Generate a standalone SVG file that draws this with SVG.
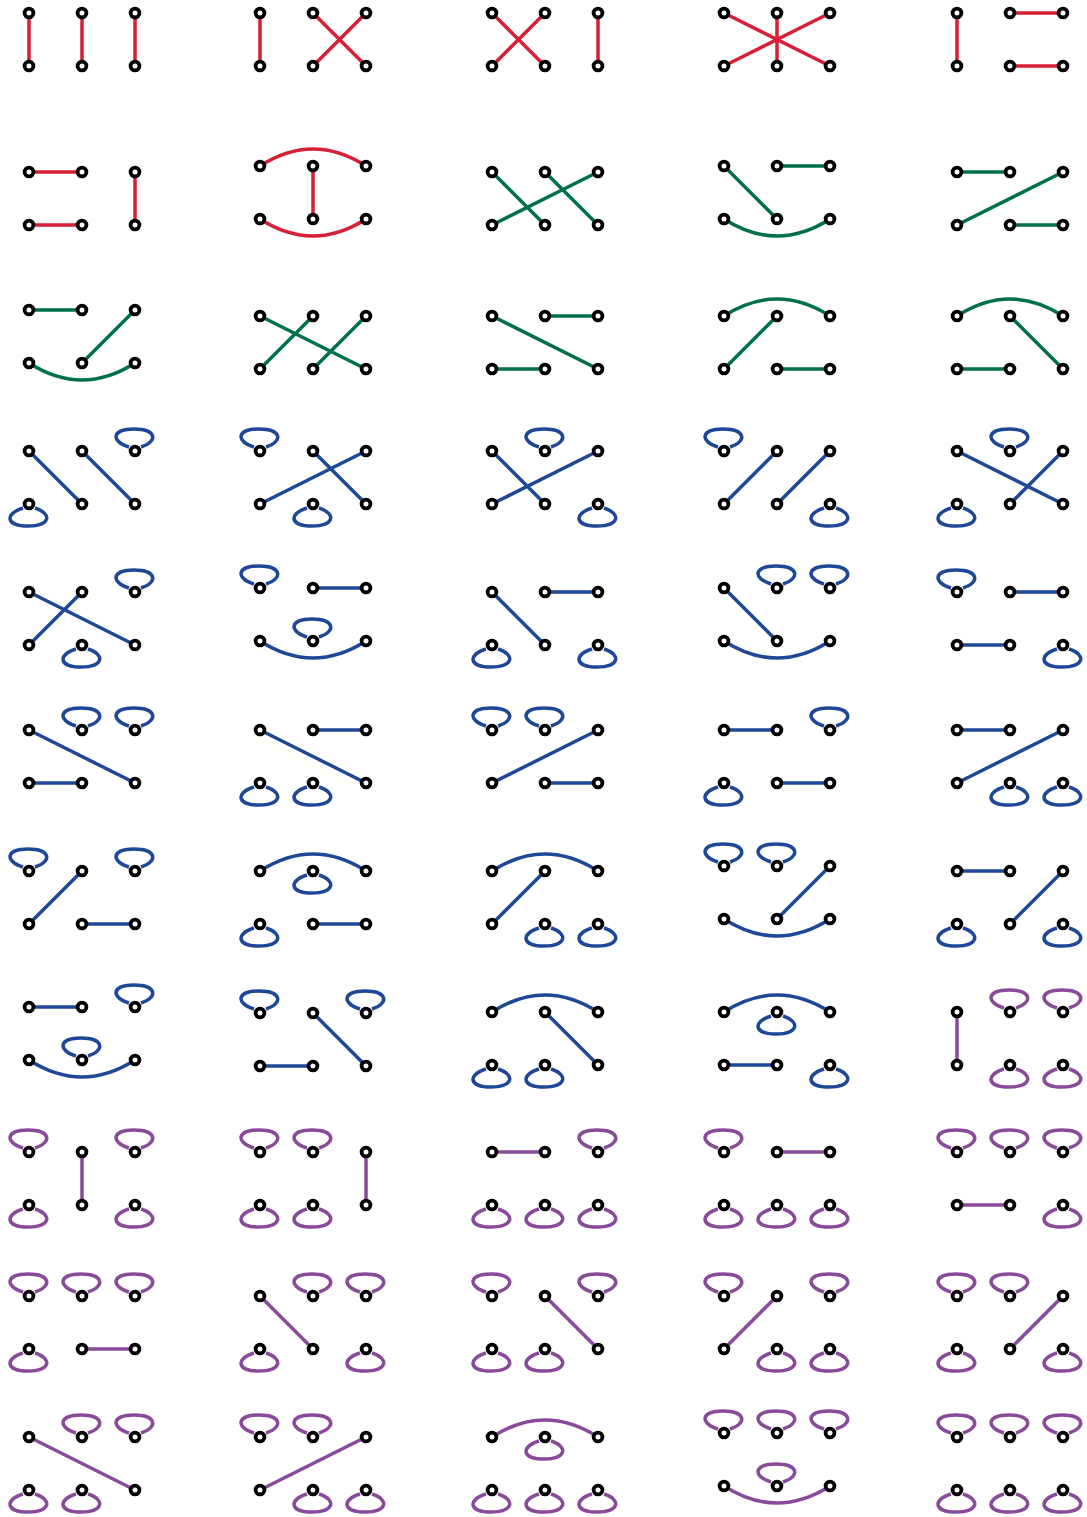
<svg xmlns="http://www.w3.org/2000/svg" xmlns:xlink="http://www.w3.org/1999/xlink" width="1087" height="1517" viewBox="0 0 1087 1517">
<style>
.c{fill:none;stroke-width:3.5}
.red{stroke:#d71f36}
.grn{stroke:#00704a}
.blu{stroke:#1e4897}
.pur{stroke:#8a4a9a}
.n circle{fill:#fff;stroke:#000;stroke-width:3.8}
</style>
<defs>
<path id="lu" d="M-6,-4C-25,-10 -23,-22 -1,-22S24,-10 6,-4"/>
<path id="ld" d="M-6,4C-25,10 -23,22 -1,22S24,10 6,4"/>
</defs>
<rect width="1087" height="1517" fill="#fff"/>

<!-- Row 1 -->
<g id="r1c1" transform="translate(29,13)">
<g class="c red"><path d="M0,0V53M53,0V53M106,0V53"/></g>
<g id="r1c1-a" class="n"><circle cx="0" cy="0" r="4.4"/></g><g id="r1c1-b" class="n"><circle cx="53" cy="0" r="4.4"/></g><g id="r1c1-c" class="n"><circle cx="106" cy="0" r="4.4"/></g><g id="r1c1-d" class="n"><circle cx="0" cy="53" r="4.4"/></g><g id="r1c1-e" class="n"><circle cx="53" cy="53" r="4.4"/></g><g id="r1c1-f" class="n"><circle cx="106" cy="53" r="4.4"/></g>
</g>
<g id="r1c2" transform="translate(260,13)">
<g class="c red"><path d="M0,0V53M53,0L106,53M106,0L53,53"/></g>
<g id="r1c2-a" class="n"><circle cx="0" cy="0" r="4.4"/></g><g id="r1c2-b" class="n"><circle cx="53" cy="0" r="4.4"/></g><g id="r1c2-c" class="n"><circle cx="106" cy="0" r="4.4"/></g><g id="r1c2-d" class="n"><circle cx="0" cy="53" r="4.4"/></g><g id="r1c2-e" class="n"><circle cx="53" cy="53" r="4.4"/></g><g id="r1c2-f" class="n"><circle cx="106" cy="53" r="4.4"/></g>
</g>
<g id="r1c3" transform="translate(492,13)">
<g class="c red"><path d="M0,0L53,53M53,0L0,53M106,0V53"/></g>
<g id="r1c3-a" class="n"><circle cx="0" cy="0" r="4.4"/></g><g id="r1c3-b" class="n"><circle cx="53" cy="0" r="4.4"/></g><g id="r1c3-c" class="n"><circle cx="106" cy="0" r="4.4"/></g><g id="r1c3-d" class="n"><circle cx="0" cy="53" r="4.4"/></g><g id="r1c3-e" class="n"><circle cx="53" cy="53" r="4.4"/></g><g id="r1c3-f" class="n"><circle cx="106" cy="53" r="4.4"/></g>
</g>
<g id="r1c4" transform="translate(724,13)">
<g class="c red"><path d="M0,0L106,53M106,0L0,53M53,0V53"/></g>
<g id="r1c4-a" class="n"><circle cx="0" cy="0" r="4.4"/></g><g id="r1c4-b" class="n"><circle cx="53" cy="0" r="4.4"/></g><g id="r1c4-c" class="n"><circle cx="106" cy="0" r="4.4"/></g><g id="r1c4-d" class="n"><circle cx="0" cy="53" r="4.4"/></g><g id="r1c4-e" class="n"><circle cx="53" cy="53" r="4.4"/></g><g id="r1c4-f" class="n"><circle cx="106" cy="53" r="4.4"/></g>
</g>
<g id="r1c5" transform="translate(957,13)">
<g class="c red"><path d="M0,0V53M53,0H106M53,53H106"/></g>
<g id="r1c5-a" class="n"><circle cx="0" cy="0" r="4.4"/></g><g id="r1c5-b" class="n"><circle cx="53" cy="0" r="4.4"/></g><g id="r1c5-c" class="n"><circle cx="106" cy="0" r="4.4"/></g><g id="r1c5-d" class="n"><circle cx="0" cy="53" r="4.4"/></g><g id="r1c5-e" class="n"><circle cx="53" cy="53" r="4.4"/></g><g id="r1c5-f" class="n"><circle cx="106" cy="53" r="4.4"/></g>
</g>

<!-- Row 2 -->
<g id="r2c1" transform="translate(29,172)">
<g class="c red"><path d="M0,0H53M0,53H53M106,0V53"/></g>
<g id="r2c1-a" class="n"><circle cx="0" cy="0" r="4.4"/></g><g id="r2c1-b" class="n"><circle cx="53" cy="0" r="4.4"/></g><g id="r2c1-c" class="n"><circle cx="106" cy="0" r="4.4"/></g><g id="r2c1-d" class="n"><circle cx="0" cy="53" r="4.4"/></g><g id="r2c1-e" class="n"><circle cx="53" cy="53" r="4.4"/></g><g id="r2c1-f" class="n"><circle cx="106" cy="53" r="4.4"/></g>
</g>
<g id="r2c2" transform="translate(260,166)">
<g class="c red"><path d="M0,0Q53,-34 106,0M53,0V53M0,53Q53,87 106,53"/></g>
<g id="r2c2-a" class="n"><circle cx="0" cy="0" r="4.4"/></g><g id="r2c2-b" class="n"><circle cx="53" cy="0" r="4.4"/></g><g id="r2c2-c" class="n"><circle cx="106" cy="0" r="4.4"/></g><g id="r2c2-d" class="n"><circle cx="0" cy="53" r="4.4"/></g><g id="r2c2-e" class="n"><circle cx="53" cy="53" r="4.4"/></g><g id="r2c2-f" class="n"><circle cx="106" cy="53" r="4.4"/></g>
</g>
<g id="r2c3" transform="translate(492,172)">
<g class="c grn"><path d="M0,0L53,53M53,0L106,53M106,0L0,53"/></g>
<g id="r2c3-a" class="n"><circle cx="0" cy="0" r="4.4"/></g><g id="r2c3-b" class="n"><circle cx="53" cy="0" r="4.4"/></g><g id="r2c3-c" class="n"><circle cx="106" cy="0" r="4.4"/></g><g id="r2c3-d" class="n"><circle cx="0" cy="53" r="4.4"/></g><g id="r2c3-e" class="n"><circle cx="53" cy="53" r="4.4"/></g><g id="r2c3-f" class="n"><circle cx="106" cy="53" r="4.4"/></g>
</g>
<g id="r2c4" transform="translate(724,166)">
<g class="c grn"><path d="M0,0L53,53M53,0H106M0,53Q53,87 106,53"/></g>
<g id="r2c4-a" class="n"><circle cx="0" cy="0" r="4.4"/></g><g id="r2c4-b" class="n"><circle cx="53" cy="0" r="4.4"/></g><g id="r2c4-c" class="n"><circle cx="106" cy="0" r="4.4"/></g><g id="r2c4-d" class="n"><circle cx="0" cy="53" r="4.4"/></g><g id="r2c4-e" class="n"><circle cx="53" cy="53" r="4.4"/></g><g id="r2c4-f" class="n"><circle cx="106" cy="53" r="4.4"/></g>
</g>
<g id="r2c5" transform="translate(957,172)">
<g class="c grn"><path d="M0,0H53M106,0L0,53M53,53H106"/></g>
<g id="r2c5-a" class="n"><circle cx="0" cy="0" r="4.4"/></g><g id="r2c5-b" class="n"><circle cx="53" cy="0" r="4.4"/></g><g id="r2c5-c" class="n"><circle cx="106" cy="0" r="4.4"/></g><g id="r2c5-d" class="n"><circle cx="0" cy="53" r="4.4"/></g><g id="r2c5-e" class="n"><circle cx="53" cy="53" r="4.4"/></g><g id="r2c5-f" class="n"><circle cx="106" cy="53" r="4.4"/></g>
</g>

<!-- Row 3 -->
<g id="r3c1" transform="translate(29,310)">
<g class="c grn"><path d="M0,0H53M106,0L53,53M0,53Q53,87 106,53"/></g>
<g id="r3c1-a" class="n"><circle cx="0" cy="0" r="4.4"/></g><g id="r3c1-b" class="n"><circle cx="53" cy="0" r="4.4"/></g><g id="r3c1-c" class="n"><circle cx="106" cy="0" r="4.4"/></g><g id="r3c1-d" class="n"><circle cx="0" cy="53" r="4.4"/></g><g id="r3c1-e" class="n"><circle cx="53" cy="53" r="4.4"/></g><g id="r3c1-f" class="n"><circle cx="106" cy="53" r="4.4"/></g>
</g>
<g id="r3c2" transform="translate(260,316)">
<g class="c grn"><path d="M0,0L106,53M53,0L0,53M106,0L53,53"/></g>
<g id="r3c2-a" class="n"><circle cx="0" cy="0" r="4.4"/></g><g id="r3c2-b" class="n"><circle cx="53" cy="0" r="4.4"/></g><g id="r3c2-c" class="n"><circle cx="106" cy="0" r="4.4"/></g><g id="r3c2-d" class="n"><circle cx="0" cy="53" r="4.4"/></g><g id="r3c2-e" class="n"><circle cx="53" cy="53" r="4.4"/></g><g id="r3c2-f" class="n"><circle cx="106" cy="53" r="4.4"/></g>
</g>
<g id="r3c3" transform="translate(492,316)">
<g class="c grn"><path d="M0,0L106,53M53,0H106M0,53H53"/></g>
<g id="r3c3-a" class="n"><circle cx="0" cy="0" r="4.4"/></g><g id="r3c3-b" class="n"><circle cx="53" cy="0" r="4.4"/></g><g id="r3c3-c" class="n"><circle cx="106" cy="0" r="4.4"/></g><g id="r3c3-d" class="n"><circle cx="0" cy="53" r="4.4"/></g><g id="r3c3-e" class="n"><circle cx="53" cy="53" r="4.4"/></g><g id="r3c3-f" class="n"><circle cx="106" cy="53" r="4.4"/></g>
</g>
<g id="r3c4" transform="translate(724,316)">
<g class="c grn"><path d="M0,0Q53,-34 106,0M53,0L0,53M53,53H106"/></g>
<g id="r3c4-a" class="n"><circle cx="0" cy="0" r="4.4"/></g><g id="r3c4-b" class="n"><circle cx="53" cy="0" r="4.4"/></g><g id="r3c4-c" class="n"><circle cx="106" cy="0" r="4.4"/></g><g id="r3c4-d" class="n"><circle cx="0" cy="53" r="4.4"/></g><g id="r3c4-e" class="n"><circle cx="53" cy="53" r="4.4"/></g><g id="r3c4-f" class="n"><circle cx="106" cy="53" r="4.4"/></g>
</g>
<g id="r3c5" transform="translate(957,316)">
<g class="c grn"><path d="M0,0Q53,-34 106,0M53,0L106,53M0,53H53"/></g>
<g id="r3c5-a" class="n"><circle cx="0" cy="0" r="4.4"/></g><g id="r3c5-b" class="n"><circle cx="53" cy="0" r="4.4"/></g><g id="r3c5-c" class="n"><circle cx="106" cy="0" r="4.4"/></g><g id="r3c5-d" class="n"><circle cx="0" cy="53" r="4.4"/></g><g id="r3c5-e" class="n"><circle cx="53" cy="53" r="4.4"/></g><g id="r3c5-f" class="n"><circle cx="106" cy="53" r="4.4"/></g>
</g>

<!-- Row 4 -->
<g id="r4c1" transform="translate(29,451)">
<g class="c blu"><path d="M0,0L53,53M53,0L106,53"/><use href="#lu" x="106" y="0"/><use href="#ld" x="0" y="53"/></g>
<g id="r4c1-a" class="n"><circle cx="0" cy="0" r="4.4"/></g><g id="r4c1-b" class="n"><circle cx="53" cy="0" r="4.4"/></g><g id="r4c1-c" class="n"><circle cx="106" cy="0" r="4.4"/></g><g id="r4c1-d" class="n"><circle cx="0" cy="53" r="4.4"/></g><g id="r4c1-e" class="n"><circle cx="53" cy="53" r="4.4"/></g><g id="r4c1-f" class="n"><circle cx="106" cy="53" r="4.4"/></g>
</g>
<g id="r4c2" transform="translate(260,451)">
<g class="c blu"><path d="M53,0L106,53M106,0L0,53"/><use href="#lu" x="0" y="0"/><use href="#ld" x="53" y="53"/></g>
<g id="r4c2-a" class="n"><circle cx="0" cy="0" r="4.4"/></g><g id="r4c2-b" class="n"><circle cx="53" cy="0" r="4.4"/></g><g id="r4c2-c" class="n"><circle cx="106" cy="0" r="4.4"/></g><g id="r4c2-d" class="n"><circle cx="0" cy="53" r="4.4"/></g><g id="r4c2-e" class="n"><circle cx="53" cy="53" r="4.4"/></g><g id="r4c2-f" class="n"><circle cx="106" cy="53" r="4.4"/></g>
</g>
<g id="r4c3" transform="translate(492,451)">
<g class="c blu"><path d="M0,0L53,53M106,0L0,53"/><use href="#lu" x="53" y="0"/><use href="#ld" x="106" y="53"/></g>
<g id="r4c3-a" class="n"><circle cx="0" cy="0" r="4.4"/></g><g id="r4c3-b" class="n"><circle cx="53" cy="0" r="4.4"/></g><g id="r4c3-c" class="n"><circle cx="106" cy="0" r="4.4"/></g><g id="r4c3-d" class="n"><circle cx="0" cy="53" r="4.4"/></g><g id="r4c3-e" class="n"><circle cx="53" cy="53" r="4.4"/></g><g id="r4c3-f" class="n"><circle cx="106" cy="53" r="4.4"/></g>
</g>
<g id="r4c4" transform="translate(724,451)">
<g class="c blu"><path d="M53,0L0,53M106,0L53,53"/><use href="#lu" x="0" y="0"/><use href="#ld" x="106" y="53"/></g>
<g id="r4c4-a" class="n"><circle cx="0" cy="0" r="4.4"/></g><g id="r4c4-b" class="n"><circle cx="53" cy="0" r="4.4"/></g><g id="r4c4-c" class="n"><circle cx="106" cy="0" r="4.4"/></g><g id="r4c4-d" class="n"><circle cx="0" cy="53" r="4.4"/></g><g id="r4c4-e" class="n"><circle cx="53" cy="53" r="4.4"/></g><g id="r4c4-f" class="n"><circle cx="106" cy="53" r="4.4"/></g>
</g>
<g id="r4c5" transform="translate(957,451)">
<g class="c blu"><path d="M0,0L106,53M106,0L53,53"/><use href="#lu" x="53" y="0"/><use href="#ld" x="0" y="53"/></g>
<g id="r4c5-a" class="n"><circle cx="0" cy="0" r="4.4"/></g><g id="r4c5-b" class="n"><circle cx="53" cy="0" r="4.4"/></g><g id="r4c5-c" class="n"><circle cx="106" cy="0" r="4.4"/></g><g id="r4c5-d" class="n"><circle cx="0" cy="53" r="4.4"/></g><g id="r4c5-e" class="n"><circle cx="53" cy="53" r="4.4"/></g><g id="r4c5-f" class="n"><circle cx="106" cy="53" r="4.4"/></g>
</g>

<!-- Row 5 -->
<g id="r5c1" transform="translate(29,592)">
<g class="c blu"><path d="M0,0L106,53M53,0L0,53"/><use href="#lu" x="106" y="0"/><use href="#ld" x="53" y="53"/></g>
<g id="r5c1-a" class="n"><circle cx="0" cy="0" r="4.4"/></g><g id="r5c1-b" class="n"><circle cx="53" cy="0" r="4.4"/></g><g id="r5c1-c" class="n"><circle cx="106" cy="0" r="4.4"/></g><g id="r5c1-d" class="n"><circle cx="0" cy="53" r="4.4"/></g><g id="r5c1-e" class="n"><circle cx="53" cy="53" r="4.4"/></g><g id="r5c1-f" class="n"><circle cx="106" cy="53" r="4.4"/></g>
</g>
<g id="r5c2" transform="translate(260,588)">
<g class="c blu"><path d="M53,0H106M0,53Q53,87 106,53"/><use href="#lu" x="0" y="0"/><use href="#lu" x="53" y="53"/></g>
<g id="r5c2-a" class="n"><circle cx="0" cy="0" r="4.4"/></g><g id="r5c2-b" class="n"><circle cx="53" cy="0" r="4.4"/></g><g id="r5c2-c" class="n"><circle cx="106" cy="0" r="4.4"/></g><g id="r5c2-d" class="n"><circle cx="0" cy="53" r="4.4"/></g><g id="r5c2-e" class="n"><circle cx="53" cy="53" r="4.4"/></g><g id="r5c2-f" class="n"><circle cx="106" cy="53" r="4.4"/></g>
</g>
<g id="r5c3" transform="translate(492,592)">
<g class="c blu"><path d="M0,0L53,53M53,0H106"/><use href="#ld" x="0" y="53"/><use href="#ld" x="106" y="53"/></g>
<g id="r5c3-a" class="n"><circle cx="0" cy="0" r="4.4"/></g><g id="r5c3-b" class="n"><circle cx="53" cy="0" r="4.4"/></g><g id="r5c3-c" class="n"><circle cx="106" cy="0" r="4.4"/></g><g id="r5c3-d" class="n"><circle cx="0" cy="53" r="4.4"/></g><g id="r5c3-e" class="n"><circle cx="53" cy="53" r="4.4"/></g><g id="r5c3-f" class="n"><circle cx="106" cy="53" r="4.4"/></g>
</g>
<g id="r5c4" transform="translate(724,588)">
<g class="c blu"><path d="M0,0L53,53M0,53Q53,87 106,53"/><use href="#lu" x="53" y="0"/><use href="#lu" x="106" y="0"/></g>
<g id="r5c4-a" class="n"><circle cx="0" cy="0" r="4.4"/></g><g id="r5c4-b" class="n"><circle cx="53" cy="0" r="4.4"/></g><g id="r5c4-c" class="n"><circle cx="106" cy="0" r="4.4"/></g><g id="r5c4-d" class="n"><circle cx="0" cy="53" r="4.4"/></g><g id="r5c4-e" class="n"><circle cx="53" cy="53" r="4.4"/></g><g id="r5c4-f" class="n"><circle cx="106" cy="53" r="4.4"/></g>
</g>
<g id="r5c5" transform="translate(957,592)">
<g class="c blu"><path d="M53,0H106M0,53H53"/><use href="#lu" x="0" y="0"/><use href="#ld" x="106" y="53"/></g>
<g id="r5c5-a" class="n"><circle cx="0" cy="0" r="4.4"/></g><g id="r5c5-b" class="n"><circle cx="53" cy="0" r="4.4"/></g><g id="r5c5-c" class="n"><circle cx="106" cy="0" r="4.4"/></g><g id="r5c5-d" class="n"><circle cx="0" cy="53" r="4.4"/></g><g id="r5c5-e" class="n"><circle cx="53" cy="53" r="4.4"/></g><g id="r5c5-f" class="n"><circle cx="106" cy="53" r="4.4"/></g>
</g>

<!-- Row 6 -->
<g id="r6c1" transform="translate(29,730)">
<g class="c blu"><path d="M0,0L106,53M0,53H53"/><use href="#lu" x="53" y="0"/><use href="#lu" x="106" y="0"/></g>
<g id="r6c1-a" class="n"><circle cx="0" cy="0" r="4.4"/></g><g id="r6c1-b" class="n"><circle cx="53" cy="0" r="4.4"/></g><g id="r6c1-c" class="n"><circle cx="106" cy="0" r="4.4"/></g><g id="r6c1-d" class="n"><circle cx="0" cy="53" r="4.4"/></g><g id="r6c1-e" class="n"><circle cx="53" cy="53" r="4.4"/></g><g id="r6c1-f" class="n"><circle cx="106" cy="53" r="4.4"/></g>
</g>
<g id="r6c2" transform="translate(260,730)">
<g class="c blu"><path d="M0,0L106,53M53,0H106"/><use href="#ld" x="0" y="53"/><use href="#ld" x="53" y="53"/></g>
<g id="r6c2-a" class="n"><circle cx="0" cy="0" r="4.4"/></g><g id="r6c2-b" class="n"><circle cx="53" cy="0" r="4.4"/></g><g id="r6c2-c" class="n"><circle cx="106" cy="0" r="4.4"/></g><g id="r6c2-d" class="n"><circle cx="0" cy="53" r="4.4"/></g><g id="r6c2-e" class="n"><circle cx="53" cy="53" r="4.4"/></g><g id="r6c2-f" class="n"><circle cx="106" cy="53" r="4.4"/></g>
</g>
<g id="r6c3" transform="translate(492,730)">
<g class="c blu"><path d="M106,0L0,53M53,53H106"/><use href="#lu" x="0" y="0"/><use href="#lu" x="53" y="0"/></g>
<g id="r6c3-a" class="n"><circle cx="0" cy="0" r="4.4"/></g><g id="r6c3-b" class="n"><circle cx="53" cy="0" r="4.4"/></g><g id="r6c3-c" class="n"><circle cx="106" cy="0" r="4.4"/></g><g id="r6c3-d" class="n"><circle cx="0" cy="53" r="4.4"/></g><g id="r6c3-e" class="n"><circle cx="53" cy="53" r="4.4"/></g><g id="r6c3-f" class="n"><circle cx="106" cy="53" r="4.4"/></g>
</g>
<g id="r6c4" transform="translate(724,730)">
<g class="c blu"><path d="M0,0H53M53,53H106"/><use href="#lu" x="106" y="0"/><use href="#ld" x="0" y="53"/></g>
<g id="r6c4-a" class="n"><circle cx="0" cy="0" r="4.4"/></g><g id="r6c4-b" class="n"><circle cx="53" cy="0" r="4.4"/></g><g id="r6c4-c" class="n"><circle cx="106" cy="0" r="4.4"/></g><g id="r6c4-d" class="n"><circle cx="0" cy="53" r="4.4"/></g><g id="r6c4-e" class="n"><circle cx="53" cy="53" r="4.4"/></g><g id="r6c4-f" class="n"><circle cx="106" cy="53" r="4.4"/></g>
</g>
<g id="r6c5" transform="translate(957,730)">
<g class="c blu"><path d="M0,0H53M106,0L0,53"/><use href="#ld" x="53" y="53"/><use href="#ld" x="106" y="53"/></g>
<g id="r6c5-a" class="n"><circle cx="0" cy="0" r="4.4"/></g><g id="r6c5-b" class="n"><circle cx="53" cy="0" r="4.4"/></g><g id="r6c5-c" class="n"><circle cx="106" cy="0" r="4.4"/></g><g id="r6c5-d" class="n"><circle cx="0" cy="53" r="4.4"/></g><g id="r6c5-e" class="n"><circle cx="53" cy="53" r="4.4"/></g><g id="r6c5-f" class="n"><circle cx="106" cy="53" r="4.4"/></g>
</g>

<!-- Row 7 -->
<g id="r7c1" transform="translate(29,871)">
<g class="c blu"><path d="M53,0L0,53M53,53H106"/><use href="#lu" x="0" y="0"/><use href="#lu" x="106" y="0"/></g>
<g id="r7c1-a" class="n"><circle cx="0" cy="0" r="4.4"/></g><g id="r7c1-b" class="n"><circle cx="53" cy="0" r="4.4"/></g><g id="r7c1-c" class="n"><circle cx="106" cy="0" r="4.4"/></g><g id="r7c1-d" class="n"><circle cx="0" cy="53" r="4.4"/></g><g id="r7c1-e" class="n"><circle cx="53" cy="53" r="4.4"/></g><g id="r7c1-f" class="n"><circle cx="106" cy="53" r="4.4"/></g>
</g>
<g id="r7c2" transform="translate(260,871)">
<g class="c blu"><path d="M0,0Q53,-34 106,0M53,53H106"/><use href="#ld" x="53" y="0"/><use href="#ld" x="0" y="53"/></g>
<g id="r7c2-a" class="n"><circle cx="0" cy="0" r="4.4"/></g><g id="r7c2-b" class="n"><circle cx="53" cy="0" r="4.4"/></g><g id="r7c2-c" class="n"><circle cx="106" cy="0" r="4.4"/></g><g id="r7c2-d" class="n"><circle cx="0" cy="53" r="4.4"/></g><g id="r7c2-e" class="n"><circle cx="53" cy="53" r="4.4"/></g><g id="r7c2-f" class="n"><circle cx="106" cy="53" r="4.4"/></g>
</g>
<g id="r7c3" transform="translate(492,871)">
<g class="c blu"><path d="M0,0Q53,-34 106,0M53,0L0,53"/><use href="#ld" x="53" y="53"/><use href="#ld" x="106" y="53"/></g>
<g id="r7c3-a" class="n"><circle cx="0" cy="0" r="4.4"/></g><g id="r7c3-b" class="n"><circle cx="53" cy="0" r="4.4"/></g><g id="r7c3-c" class="n"><circle cx="106" cy="0" r="4.4"/></g><g id="r7c3-d" class="n"><circle cx="0" cy="53" r="4.4"/></g><g id="r7c3-e" class="n"><circle cx="53" cy="53" r="4.4"/></g><g id="r7c3-f" class="n"><circle cx="106" cy="53" r="4.4"/></g>
</g>
<g id="r7c4" transform="translate(724,866)">
<g class="c blu"><path d="M106,0L53,53M0,53Q53,87 106,53"/><use href="#lu" x="0" y="0"/><use href="#lu" x="53" y="0"/></g>
<g id="r7c4-a" class="n"><circle cx="0" cy="0" r="4.4"/></g><g id="r7c4-b" class="n"><circle cx="53" cy="0" r="4.4"/></g><g id="r7c4-c" class="n"><circle cx="106" cy="0" r="4.4"/></g><g id="r7c4-d" class="n"><circle cx="0" cy="53" r="4.4"/></g><g id="r7c4-e" class="n"><circle cx="53" cy="53" r="4.4"/></g><g id="r7c4-f" class="n"><circle cx="106" cy="53" r="4.4"/></g>
</g>
<g id="r7c5" transform="translate(957,871)">
<g class="c blu"><path d="M0,0H53M106,0L53,53"/><use href="#ld" x="0" y="53"/><use href="#ld" x="106" y="53"/></g>
<g id="r7c5-a" class="n"><circle cx="0" cy="0" r="4.4"/></g><g id="r7c5-b" class="n"><circle cx="53" cy="0" r="4.4"/></g><g id="r7c5-c" class="n"><circle cx="106" cy="0" r="4.4"/></g><g id="r7c5-d" class="n"><circle cx="0" cy="53" r="4.4"/></g><g id="r7c5-e" class="n"><circle cx="53" cy="53" r="4.4"/></g><g id="r7c5-f" class="n"><circle cx="106" cy="53" r="4.4"/></g>
</g>

<!-- Row 8 -->
<g id="r8c1" transform="translate(29,1007)">
<g class="c blu"><path d="M0,0H53M0,53Q53,87 106,53"/><use href="#lu" x="106" y="0"/><use href="#lu" x="53" y="53"/></g>
<g id="r8c1-a" class="n"><circle cx="0" cy="0" r="4.4"/></g><g id="r8c1-b" class="n"><circle cx="53" cy="0" r="4.4"/></g><g id="r8c1-c" class="n"><circle cx="106" cy="0" r="4.4"/></g><g id="r8c1-d" class="n"><circle cx="0" cy="53" r="4.4"/></g><g id="r8c1-e" class="n"><circle cx="53" cy="53" r="4.4"/></g><g id="r8c1-f" class="n"><circle cx="106" cy="53" r="4.4"/></g>
</g>
<g id="r8c2" transform="translate(260,1013)">
<g class="c blu"><path d="M53,0L106,53M0,53H53"/><use href="#lu" x="0" y="0"/><use href="#lu" x="106" y="0"/></g>
<g id="r8c2-a" class="n"><circle cx="0" cy="0" r="4.4"/></g><g id="r8c2-b" class="n"><circle cx="53" cy="0" r="4.4"/></g><g id="r8c2-c" class="n"><circle cx="106" cy="0" r="4.4"/></g><g id="r8c2-d" class="n"><circle cx="0" cy="53" r="4.4"/></g><g id="r8c2-e" class="n"><circle cx="53" cy="53" r="4.4"/></g><g id="r8c2-f" class="n"><circle cx="106" cy="53" r="4.4"/></g>
</g>
<g id="r8c3" transform="translate(492,1012)">
<g class="c blu"><path d="M0,0Q53,-34 106,0M53,0L106,53"/><use href="#ld" x="0" y="53"/><use href="#ld" x="53" y="53"/></g>
<g id="r8c3-a" class="n"><circle cx="0" cy="0" r="4.4"/></g><g id="r8c3-b" class="n"><circle cx="53" cy="0" r="4.4"/></g><g id="r8c3-c" class="n"><circle cx="106" cy="0" r="4.4"/></g><g id="r8c3-d" class="n"><circle cx="0" cy="53" r="4.4"/></g><g id="r8c3-e" class="n"><circle cx="53" cy="53" r="4.4"/></g><g id="r8c3-f" class="n"><circle cx="106" cy="53" r="4.4"/></g>
</g>
<g id="r8c4" transform="translate(724,1012)">
<g class="c blu"><path d="M0,0Q53,-34 106,0M0,53H53"/><use href="#ld" x="53" y="0"/><use href="#ld" x="106" y="53"/></g>
<g id="r8c4-a" class="n"><circle cx="0" cy="0" r="4.4"/></g><g id="r8c4-b" class="n"><circle cx="53" cy="0" r="4.4"/></g><g id="r8c4-c" class="n"><circle cx="106" cy="0" r="4.4"/></g><g id="r8c4-d" class="n"><circle cx="0" cy="53" r="4.4"/></g><g id="r8c4-e" class="n"><circle cx="53" cy="53" r="4.4"/></g><g id="r8c4-f" class="n"><circle cx="106" cy="53" r="4.4"/></g>
</g>
<g id="r8c5" transform="translate(957,1012)">
<g class="c pur"><path d="M0,0V53"/><use href="#lu" x="53" y="0"/><use href="#lu" x="106" y="0"/><use href="#ld" x="53" y="53"/><use href="#ld" x="106" y="53"/></g>
<g id="r8c5-a" class="n"><circle cx="0" cy="0" r="4.4"/></g><g id="r8c5-b" class="n"><circle cx="53" cy="0" r="4.4"/></g><g id="r8c5-c" class="n"><circle cx="106" cy="0" r="4.4"/></g><g id="r8c5-d" class="n"><circle cx="0" cy="53" r="4.4"/></g><g id="r8c5-e" class="n"><circle cx="53" cy="53" r="4.4"/></g><g id="r8c5-f" class="n"><circle cx="106" cy="53" r="4.4"/></g>
</g>

<!-- Row 9 -->
<g id="r9c1" transform="translate(29,1152)">
<g class="c pur"><path d="M53,0V53"/><use href="#lu" x="0" y="0"/><use href="#lu" x="106" y="0"/><use href="#ld" x="0" y="53"/><use href="#ld" x="106" y="53"/></g>
<g id="r9c1-a" class="n"><circle cx="0" cy="0" r="4.4"/></g><g id="r9c1-b" class="n"><circle cx="53" cy="0" r="4.4"/></g><g id="r9c1-c" class="n"><circle cx="106" cy="0" r="4.4"/></g><g id="r9c1-d" class="n"><circle cx="0" cy="53" r="4.4"/></g><g id="r9c1-e" class="n"><circle cx="53" cy="53" r="4.4"/></g><g id="r9c1-f" class="n"><circle cx="106" cy="53" r="4.4"/></g>
</g>
<g id="r9c2" transform="translate(260,1152)">
<g class="c pur"><path d="M106,0V53"/><use href="#lu" x="0" y="0"/><use href="#lu" x="53" y="0"/><use href="#ld" x="0" y="53"/><use href="#ld" x="53" y="53"/></g>
<g id="r9c2-a" class="n"><circle cx="0" cy="0" r="4.4"/></g><g id="r9c2-b" class="n"><circle cx="53" cy="0" r="4.4"/></g><g id="r9c2-c" class="n"><circle cx="106" cy="0" r="4.4"/></g><g id="r9c2-d" class="n"><circle cx="0" cy="53" r="4.4"/></g><g id="r9c2-e" class="n"><circle cx="53" cy="53" r="4.4"/></g><g id="r9c2-f" class="n"><circle cx="106" cy="53" r="4.4"/></g>
</g>
<g id="r9c3" transform="translate(492,1152)">
<g class="c pur"><path d="M0,0H53"/><use href="#lu" x="106" y="0"/><use href="#ld" x="0" y="53"/><use href="#ld" x="53" y="53"/><use href="#ld" x="106" y="53"/></g>
<g id="r9c3-a" class="n"><circle cx="0" cy="0" r="4.4"/></g><g id="r9c3-b" class="n"><circle cx="53" cy="0" r="4.4"/></g><g id="r9c3-c" class="n"><circle cx="106" cy="0" r="4.4"/></g><g id="r9c3-d" class="n"><circle cx="0" cy="53" r="4.4"/></g><g id="r9c3-e" class="n"><circle cx="53" cy="53" r="4.4"/></g><g id="r9c3-f" class="n"><circle cx="106" cy="53" r="4.4"/></g>
</g>
<g id="r9c4" transform="translate(724,1152)">
<g class="c pur"><path d="M53,0H106"/><use href="#lu" x="0" y="0"/><use href="#ld" x="0" y="53"/><use href="#ld" x="53" y="53"/><use href="#ld" x="106" y="53"/></g>
<g id="r9c4-a" class="n"><circle cx="0" cy="0" r="4.4"/></g><g id="r9c4-b" class="n"><circle cx="53" cy="0" r="4.4"/></g><g id="r9c4-c" class="n"><circle cx="106" cy="0" r="4.4"/></g><g id="r9c4-d" class="n"><circle cx="0" cy="53" r="4.4"/></g><g id="r9c4-e" class="n"><circle cx="53" cy="53" r="4.4"/></g><g id="r9c4-f" class="n"><circle cx="106" cy="53" r="4.4"/></g>
</g>
<g id="r9c5" transform="translate(957,1152)">
<g class="c pur"><path d="M0,53H53"/><use href="#lu" x="0" y="0"/><use href="#lu" x="53" y="0"/><use href="#lu" x="106" y="0"/><use href="#ld" x="106" y="53"/></g>
<g id="r9c5-a" class="n"><circle cx="0" cy="0" r="4.4"/></g><g id="r9c5-b" class="n"><circle cx="53" cy="0" r="4.4"/></g><g id="r9c5-c" class="n"><circle cx="106" cy="0" r="4.4"/></g><g id="r9c5-d" class="n"><circle cx="0" cy="53" r="4.4"/></g><g id="r9c5-e" class="n"><circle cx="53" cy="53" r="4.4"/></g><g id="r9c5-f" class="n"><circle cx="106" cy="53" r="4.4"/></g>
</g>

<!-- Row 10 -->
<g id="r10c1" transform="translate(29,1296)">
<g class="c pur"><path d="M53,53H106"/><use href="#lu" x="0" y="0"/><use href="#lu" x="53" y="0"/><use href="#lu" x="106" y="0"/><use href="#ld" x="0" y="53"/></g>
<g id="r10c1-a" class="n"><circle cx="0" cy="0" r="4.4"/></g><g id="r10c1-b" class="n"><circle cx="53" cy="0" r="4.4"/></g><g id="r10c1-c" class="n"><circle cx="106" cy="0" r="4.4"/></g><g id="r10c1-d" class="n"><circle cx="0" cy="53" r="4.4"/></g><g id="r10c1-e" class="n"><circle cx="53" cy="53" r="4.4"/></g><g id="r10c1-f" class="n"><circle cx="106" cy="53" r="4.4"/></g>
</g>
<g id="r10c2" transform="translate(260,1296)">
<g class="c pur"><path d="M0,0L53,53"/><use href="#lu" x="53" y="0"/><use href="#lu" x="106" y="0"/><use href="#ld" x="0" y="53"/><use href="#ld" x="106" y="53"/></g>
<g id="r10c2-a" class="n"><circle cx="0" cy="0" r="4.4"/></g><g id="r10c2-b" class="n"><circle cx="53" cy="0" r="4.4"/></g><g id="r10c2-c" class="n"><circle cx="106" cy="0" r="4.4"/></g><g id="r10c2-d" class="n"><circle cx="0" cy="53" r="4.4"/></g><g id="r10c2-e" class="n"><circle cx="53" cy="53" r="4.4"/></g><g id="r10c2-f" class="n"><circle cx="106" cy="53" r="4.4"/></g>
</g>
<g id="r10c3" transform="translate(492,1296)">
<g class="c pur"><path d="M53,0L106,53"/><use href="#lu" x="0" y="0"/><use href="#lu" x="106" y="0"/><use href="#ld" x="0" y="53"/><use href="#ld" x="53" y="53"/></g>
<g id="r10c3-a" class="n"><circle cx="0" cy="0" r="4.4"/></g><g id="r10c3-b" class="n"><circle cx="53" cy="0" r="4.4"/></g><g id="r10c3-c" class="n"><circle cx="106" cy="0" r="4.4"/></g><g id="r10c3-d" class="n"><circle cx="0" cy="53" r="4.4"/></g><g id="r10c3-e" class="n"><circle cx="53" cy="53" r="4.4"/></g><g id="r10c3-f" class="n"><circle cx="106" cy="53" r="4.4"/></g>
</g>
<g id="r10c4" transform="translate(724,1296)">
<g class="c pur"><path d="M53,0L0,53"/><use href="#lu" x="0" y="0"/><use href="#lu" x="106" y="0"/><use href="#ld" x="53" y="53"/><use href="#ld" x="106" y="53"/></g>
<g id="r10c4-a" class="n"><circle cx="0" cy="0" r="4.4"/></g><g id="r10c4-b" class="n"><circle cx="53" cy="0" r="4.4"/></g><g id="r10c4-c" class="n"><circle cx="106" cy="0" r="4.4"/></g><g id="r10c4-d" class="n"><circle cx="0" cy="53" r="4.4"/></g><g id="r10c4-e" class="n"><circle cx="53" cy="53" r="4.4"/></g><g id="r10c4-f" class="n"><circle cx="106" cy="53" r="4.4"/></g>
</g>
<g id="r10c5" transform="translate(957,1296)">
<g class="c pur"><path d="M106,0L53,53"/><use href="#lu" x="0" y="0"/><use href="#lu" x="53" y="0"/><use href="#ld" x="0" y="53"/><use href="#ld" x="106" y="53"/></g>
<g id="r10c5-a" class="n"><circle cx="0" cy="0" r="4.4"/></g><g id="r10c5-b" class="n"><circle cx="53" cy="0" r="4.4"/></g><g id="r10c5-c" class="n"><circle cx="106" cy="0" r="4.4"/></g><g id="r10c5-d" class="n"><circle cx="0" cy="53" r="4.4"/></g><g id="r10c5-e" class="n"><circle cx="53" cy="53" r="4.4"/></g><g id="r10c5-f" class="n"><circle cx="106" cy="53" r="4.4"/></g>
</g>

<!-- Row 11 -->
<g id="r11c1" transform="translate(29,1437)">
<g class="c pur"><path d="M0,0L106,53"/><use href="#lu" x="53" y="0"/><use href="#lu" x="106" y="0"/><use href="#ld" x="0" y="53"/><use href="#ld" x="53" y="53"/></g>
<g id="r11c1-a" class="n"><circle cx="0" cy="0" r="4.4"/></g><g id="r11c1-b" class="n"><circle cx="53" cy="0" r="4.4"/></g><g id="r11c1-c" class="n"><circle cx="106" cy="0" r="4.4"/></g><g id="r11c1-d" class="n"><circle cx="0" cy="53" r="4.4"/></g><g id="r11c1-e" class="n"><circle cx="53" cy="53" r="4.4"/></g><g id="r11c1-f" class="n"><circle cx="106" cy="53" r="4.4"/></g>
</g>
<g id="r11c2" transform="translate(260,1437)">
<g class="c pur"><path d="M106,0L0,53"/><use href="#lu" x="0" y="0"/><use href="#lu" x="53" y="0"/><use href="#ld" x="53" y="53"/><use href="#ld" x="106" y="53"/></g>
<g id="r11c2-a" class="n"><circle cx="0" cy="0" r="4.4"/></g><g id="r11c2-b" class="n"><circle cx="53" cy="0" r="4.4"/></g><g id="r11c2-c" class="n"><circle cx="106" cy="0" r="4.4"/></g><g id="r11c2-d" class="n"><circle cx="0" cy="53" r="4.4"/></g><g id="r11c2-e" class="n"><circle cx="53" cy="53" r="4.4"/></g><g id="r11c2-f" class="n"><circle cx="106" cy="53" r="4.4"/></g>
</g>
<g id="r11c3" transform="translate(492,1437)">
<g class="c pur"><path d="M0,0Q53,-34 106,0"/><use href="#ld" x="53" y="0"/><use href="#ld" x="0" y="53"/><use href="#ld" x="53" y="53"/><use href="#ld" x="106" y="53"/></g>
<g id="r11c3-a" class="n"><circle cx="0" cy="0" r="4.4"/></g><g id="r11c3-b" class="n"><circle cx="53" cy="0" r="4.4"/></g><g id="r11c3-c" class="n"><circle cx="106" cy="0" r="4.4"/></g><g id="r11c3-d" class="n"><circle cx="0" cy="53" r="4.4"/></g><g id="r11c3-e" class="n"><circle cx="53" cy="53" r="4.4"/></g><g id="r11c3-f" class="n"><circle cx="106" cy="53" r="4.4"/></g>
</g>
<g id="r11c4" transform="translate(724,1433)">
<g class="c pur"><path d="M0,53Q53,87 106,53"/><use href="#lu" x="0" y="0"/><use href="#lu" x="53" y="0"/><use href="#lu" x="106" y="0"/><use href="#lu" x="53" y="53"/></g>
<g id="r11c4-a" class="n"><circle cx="0" cy="0" r="4.4"/></g><g id="r11c4-b" class="n"><circle cx="53" cy="0" r="4.4"/></g><g id="r11c4-c" class="n"><circle cx="106" cy="0" r="4.4"/></g><g id="r11c4-d" class="n"><circle cx="0" cy="53" r="4.4"/></g><g id="r11c4-e" class="n"><circle cx="53" cy="53" r="4.4"/></g><g id="r11c4-f" class="n"><circle cx="106" cy="53" r="4.4"/></g>
</g>
<g id="r11c5" transform="translate(957,1437)">
<g class="c pur"><use href="#lu" x="0" y="0"/><use href="#lu" x="53" y="0"/><use href="#lu" x="106" y="0"/><use href="#ld" x="0" y="53"/><use href="#ld" x="53" y="53"/><use href="#ld" x="106" y="53"/></g>
<g id="r11c5-a" class="n"><circle cx="0" cy="0" r="4.4"/></g><g id="r11c5-b" class="n"><circle cx="53" cy="0" r="4.4"/></g><g id="r11c5-c" class="n"><circle cx="106" cy="0" r="4.4"/></g><g id="r11c5-d" class="n"><circle cx="0" cy="53" r="4.4"/></g><g id="r11c5-e" class="n"><circle cx="53" cy="53" r="4.4"/></g><g id="r11c5-f" class="n"><circle cx="106" cy="53" r="4.4"/></g>
</g>
</svg>
